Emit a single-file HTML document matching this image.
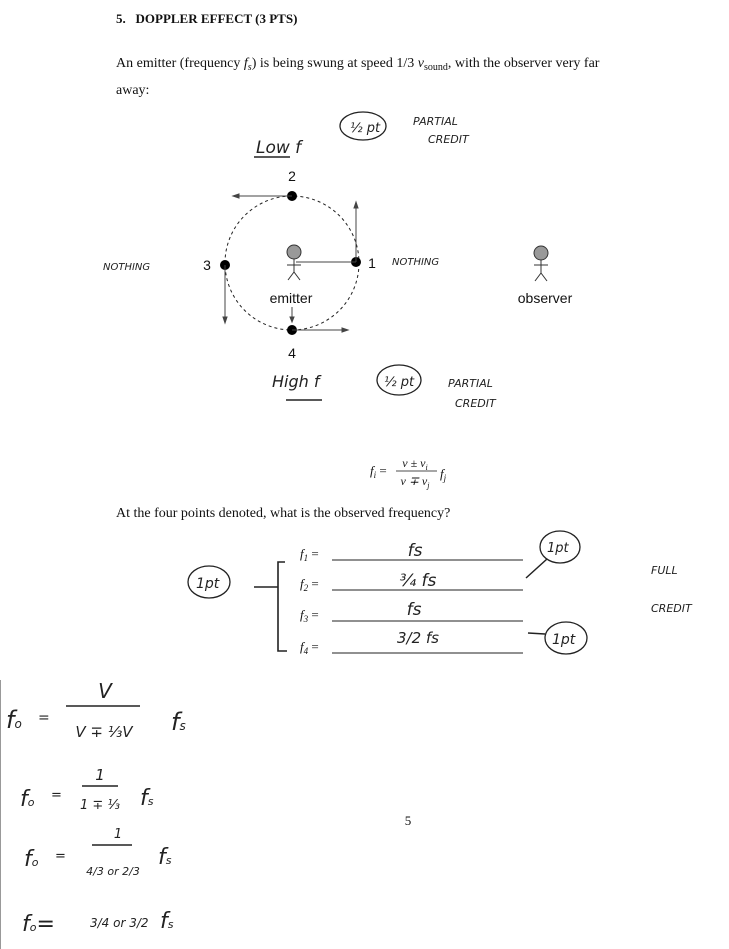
<!DOCTYPE html>
<html><head><meta charset="utf-8"><style>
html,body{margin:0;padding:0;background:#fff;}
svg{display:block;}
.s{font-family:"Liberation Serif",serif;fill:#111;}
.a{font-family:"Liberation Sans",sans-serif;fill:#111;}
.h{font-family:"DejaVu Sans","Liberation Sans",sans-serif;fill:#222;font-style:italic;}
</style></head><body>
<svg width="729" height="949" viewBox="0 0 729 949" xmlns="http://www.w3.org/2000/svg">
<line x1="0.5" y1="680" x2="0.5" y2="949" stroke="#999" stroke-width="1"/>
<text x="116" y="23" class="s" font-size="13" font-weight="bold">5.&#160;&#160; DOPPLER EFFECT (3 PTS)</text>
<text x="116" y="67" class="s" font-size="14">An emitter (frequency <tspan font-style="italic">f<tspan font-size="10" dy="3">s</tspan></tspan><tspan dy="-3">) is being swung at speed 1/3</tspan> <tspan font-style="italic">v</tspan><tspan font-size="10" dy="3">sound</tspan><tspan dy="-3">, with the observer very far</tspan></text>
<text x="116" y="94" class="s" font-size="14">away:</text>

<!-- diagram -->
<circle cx="292" cy="263" r="67" fill="none" stroke="#222" stroke-width="1" stroke-dasharray="3,3"/>
<circle cx="292" cy="196" r="5" fill="#000"/>
<circle cx="356" cy="262" r="5" fill="#000"/>
<circle cx="225" cy="265" r="5" fill="#000"/>
<circle cx="292" cy="330" r="5" fill="#000"/>
<g stroke="#444" stroke-width="1" fill="#444">
<line x1="292" y1="196" x2="236" y2="196"/><polygon points="233,196 239,194 239,198"/>
<line x1="356" y1="262" x2="356" y2="205"/><polygon points="356,202 354,208 358,208"/>
<line x1="225" y1="265" x2="225" y2="320"/><polygon points="225,323 223,317 227,317"/>
<line x1="292" y1="330" x2="345" y2="330"/><polygon points="348,330 342,328 342,332"/>
<line x1="292" y1="307" x2="292" y2="319"/><polygon points="292,322 290,317 294,317"/>
<line x1="296" y1="262" x2="356" y2="262"/>
</g>
<text x="292" y="181" class="a" font-size="14" text-anchor="middle">2</text>
<text x="372" y="268" class="a" font-size="14" text-anchor="middle">1</text>
<text x="207" y="270" class="a" font-size="14" text-anchor="middle">3</text>
<text x="292" y="358" class="a" font-size="14" text-anchor="middle">4</text>
<g stroke="#333" stroke-width="1" fill="none">
<circle cx="294" cy="252" r="7" fill="#999"/>
<line x1="294" y1="259" x2="294" y2="272"/><line x1="287" y1="265" x2="301" y2="265"/>
<line x1="294" y1="272" x2="288" y2="280"/><line x1="294" y1="272" x2="300" y2="280"/>
<circle cx="541" cy="253" r="7" fill="#999"/>
<line x1="541" y1="260" x2="541" y2="273"/><line x1="534" y1="265" x2="548" y2="265"/>
<line x1="541" y1="273" x2="535" y2="281"/><line x1="541" y1="273" x2="547" y2="281"/>
</g>
<text x="291" y="303" class="a" font-size="14" text-anchor="middle">emitter</text>
<text x="545" y="303" class="a" font-size="14" text-anchor="middle">observer</text>

<!-- handwriting -->
<text x="256" y="153" class="h" font-size="17">Low f</text>
<line x1="254" y1="157" x2="290" y2="157" stroke="#222" stroke-width="1.5"/>
<ellipse cx="363" cy="126" rx="23" ry="14" fill="none" stroke="#222" stroke-width="1.3"/>
<text x="350" y="132" class="h" font-size="13">½ pt</text>
<text x="413" y="125" class="h" font-size="11">PARTIAL</text>
<text x="428" y="143" class="h" font-size="11">CREDIT</text>
<text x="103" y="270" class="h" font-size="10">NOTHING</text>
<text x="392" y="265" class="h" font-size="10">NOTHING</text>
<text x="272" y="387" class="h" font-size="16">High f</text>
<line x1="286" y1="400" x2="322" y2="400" stroke="#222" stroke-width="1.5"/>
<ellipse cx="399" cy="380" rx="22" ry="15" fill="none" stroke="#222" stroke-width="1.3"/>
<text x="384" y="386" class="h" font-size="13">½ pt</text>
<text x="448" y="387" class="h" font-size="11">PARTIAL</text>
<text x="455" y="407" class="h" font-size="11">CREDIT</text>

<!-- formula -->
<text x="370" y="475" class="s" font-size="13" font-style="italic">f<tspan font-size="9" dy="3">i</tspan><tspan dy="-3" font-style="normal"> =</tspan></text>
<text x="415" y="467" class="s" font-size="12" text-anchor="middle" font-style="italic">v ± v<tspan font-size="8" dy="3">i</tspan></text>
<line x1="396" y1="471" x2="437" y2="471" stroke="#111" stroke-width="0.8"/>
<text x="415" y="485" class="s" font-size="12" text-anchor="middle" font-style="italic">v ∓ v<tspan font-size="8" dy="3">j</tspan></text>
<text x="440" y="478" class="s" font-size="13" font-style="italic">f<tspan font-size="9" dy="3">j</tspan></text>
<text x="116" y="517" class="s" font-size="14">At the four points denoted, what is the observed frequency?</text>

<g class="s" font-size="13" font-style="italic">
<text x="300" y="558">f<tspan font-size="9" dy="3">1</tspan><tspan dy="-3" font-style="normal"> =</tspan></text>
<text x="300" y="588">f<tspan font-size="9" dy="3">2</tspan><tspan dy="-3" font-style="normal"> =</tspan></text>
<text x="300" y="619">f<tspan font-size="9" dy="3">3</tspan><tspan dy="-3" font-style="normal"> =</tspan></text>
<text x="300" y="651">f<tspan font-size="9" dy="3">4</tspan><tspan dy="-3" font-style="normal"> =</tspan></text>
</g>
<g stroke="#222" stroke-width="1">
<line x1="332" y1="560" x2="523" y2="560"/><line x1="332" y1="590" x2="523" y2="590"/>
<line x1="332" y1="621" x2="523" y2="621"/><line x1="332" y1="653" x2="523" y2="653"/>
</g>
<g class="h" font-size="17" text-anchor="middle">
<text x="415" y="556">fs</text><text x="418" y="586">¾ fs</text>
<text x="414" y="615">fs</text><text x="418" y="643" font-size="15">3/2 fs</text>
</g>
<path d="M285 562 L278 562 L278 651 L287 651 M254 587 L278 587" fill="none" stroke="#222" stroke-width="1.6"/>
<ellipse cx="209" cy="582" rx="21" ry="16" fill="none" stroke="#222" stroke-width="1.3"/>
<text x="196" y="588" class="h" font-size="14">1pt</text>
<ellipse cx="560" cy="547" rx="20" ry="16" fill="none" stroke="#222" stroke-width="1.3"/>
<text x="547" y="552" class="h" font-size="13">1pt</text>
<line x1="547" y1="559" x2="526" y2="578" stroke="#222" stroke-width="1.5"/>
<ellipse cx="566" cy="638" rx="21" ry="16" fill="none" stroke="#222" stroke-width="1.3"/>
<text x="552" y="644" class="h" font-size="14">1pt</text>
<line x1="528" y1="633" x2="545" y2="634" stroke="#222" stroke-width="1.5"/>
<text x="651" y="574" class="h" font-size="11">FULL</text>
<text x="651" y="612" class="h" font-size="11">CREDIT</text>

<!-- bottom work -->
<g class="h" fill="#222">
<text x="6" y="728" font-size="24">f<tspan font-size="12">o</tspan></text>
<text x="38" y="722" font-size="14">=</text>
<text x="105" y="698" font-size="20" text-anchor="middle">V</text>
<text x="104" y="737" font-size="15" text-anchor="middle">V ∓ ⅓V</text>
<text x="171" y="730" font-size="24">f<tspan font-size="12">s</tspan></text>
<text x="20" y="806" font-size="22">f<tspan font-size="11">o</tspan></text>
<text x="51" y="799" font-size="13">=</text>
<text x="100" y="780" font-size="15" text-anchor="middle">1</text>
<text x="100" y="809" font-size="13" text-anchor="middle">1 ∓ ⅓</text>
<text x="140" y="805" font-size="22">f<tspan font-size="11">s</tspan></text>
<text x="24" y="866" font-size="22">f<tspan font-size="11">o</tspan></text>
<text x="55" y="860" font-size="13">=</text>
<text x="118" y="838" font-size="13" text-anchor="middle">1</text>
<text x="113" y="875" font-size="11" text-anchor="middle">4/3 or 2/3</text>
<text x="158" y="864" font-size="22">f<tspan font-size="11">s</tspan></text>
<text x="22" y="931" font-size="22">f<tspan font-size="11">o</tspan>=</text>
<text x="90" y="927" font-size="12">3/4 or 3/2</text>
<text x="160" y="928" font-size="22">f<tspan font-size="11">s</tspan></text>
</g>
<g stroke="#222" stroke-width="1.4">
<line x1="66" y1="706" x2="140" y2="706"/>
<line x1="82" y1="786" x2="118" y2="786"/>
<line x1="92" y1="845" x2="132" y2="845"/>
</g>
<text x="408" y="825" class="s" font-size="13" text-anchor="middle">5</text>
</svg>
</body></html>
